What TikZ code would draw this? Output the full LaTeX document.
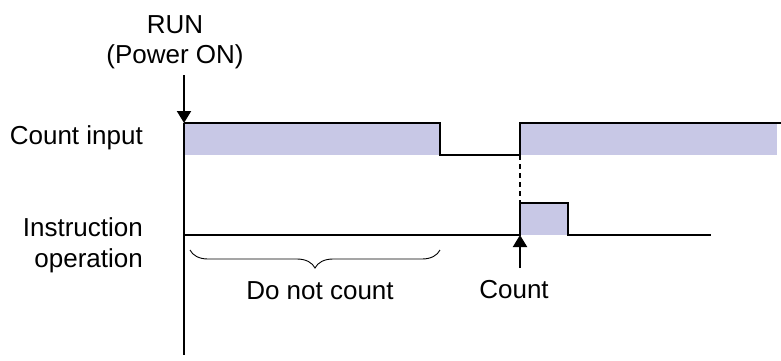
\documentclass[tikz,border=0pt]{standalone}
\usepackage{fontspec}
\setmainfont{Liberation Sans}
\usetikzlibrary{arrows.meta,decorations.pathreplacing}
\definecolor{sigfill}{RGB}{200,200,230}
\tikzset{
  lbl/.style={font=\fontsize{26}{30}\selectfont, inner sep=0pt},
  wave/.style={line width=2pt, line join=miter},
  axisline/.style={line width=2pt},
  tri/.style={-{Triangle[width=14pt,length=12pt]}},
  fillbox/.style={fill=sigfill, draw=none},
}
\begin{document}
\begin{tikzpicture}[x=1pt,y=-1pt]
\useasboundingbox (0,0) rectangle (781,360);
% fills
\fill[fillbox] (184,123) rectangle (440,155);
\fill[fillbox] (520,123) rectangle (777,155);
\fill[fillbox] (520,203) rectangle (568,235);
% coordinates
\coordinate (runtop) at (184,75);
\coordinate (origin) at (184,123);
\coordinate (axisend) at (184,355);
\coordinate (ci1) at (440,123);
\coordinate (ci2) at (440,155);
\coordinate (ci3) at (520,155);
\coordinate (ci4) at (520,123);
\coordinate (ci5) at (781,123);
\coordinate (io0) at (184,235);
\coordinate (io1) at (520,235);
\coordinate (io2) at (520,203);
\coordinate (io3) at (568,203);
\coordinate (io4) at (568,235);
\coordinate (io5) at (711,235);
\coordinate (cntbot) at (520,268);
\coordinate (brl) at (190,250);
\coordinate (brr) at (440,250);
% waveforms
\draw[wave] (origin) -- (ci1) -- (ci2) -- (ci3) -- (ci4) -- (ci5);
\draw[wave] (io0) -- (io1) -- (io2) -- (io3) -- (io4) -- (io5);
\draw[line width=1.6pt, dash pattern=on 5pt off 4pt] (ci3) -- (io2);
% axis and arrows
\draw[axisline] (origin) -- (axisend);
\draw[axisline,tri] (runtop) -- (origin);
\draw[axisline,tri] (cntbot) -- (io1);
% brace
\draw[line width=0.9pt, decorate, decoration={brace, mirror, amplitude=18pt}] (brl) -- (brr);
% labels
\node[lbl, anchor=base] (run) at (175,33) {RUN};
\node[lbl, anchor=base] (pwr) at (175,63) {(Power ON)};
\node[lbl, anchor=base east] (cin) at (143,144) {Count input};
\node[lbl, anchor=base east] (ins) at (143,236) {Instruction};
\node[lbl, anchor=base east] (op) at (143,267) {operation};
\node[lbl, anchor=base] (dnc) at (320,299) {Do not count};
\node[lbl, anchor=base] (cnt) at (514,298) {Count};
\end{tikzpicture}
\end{document}
